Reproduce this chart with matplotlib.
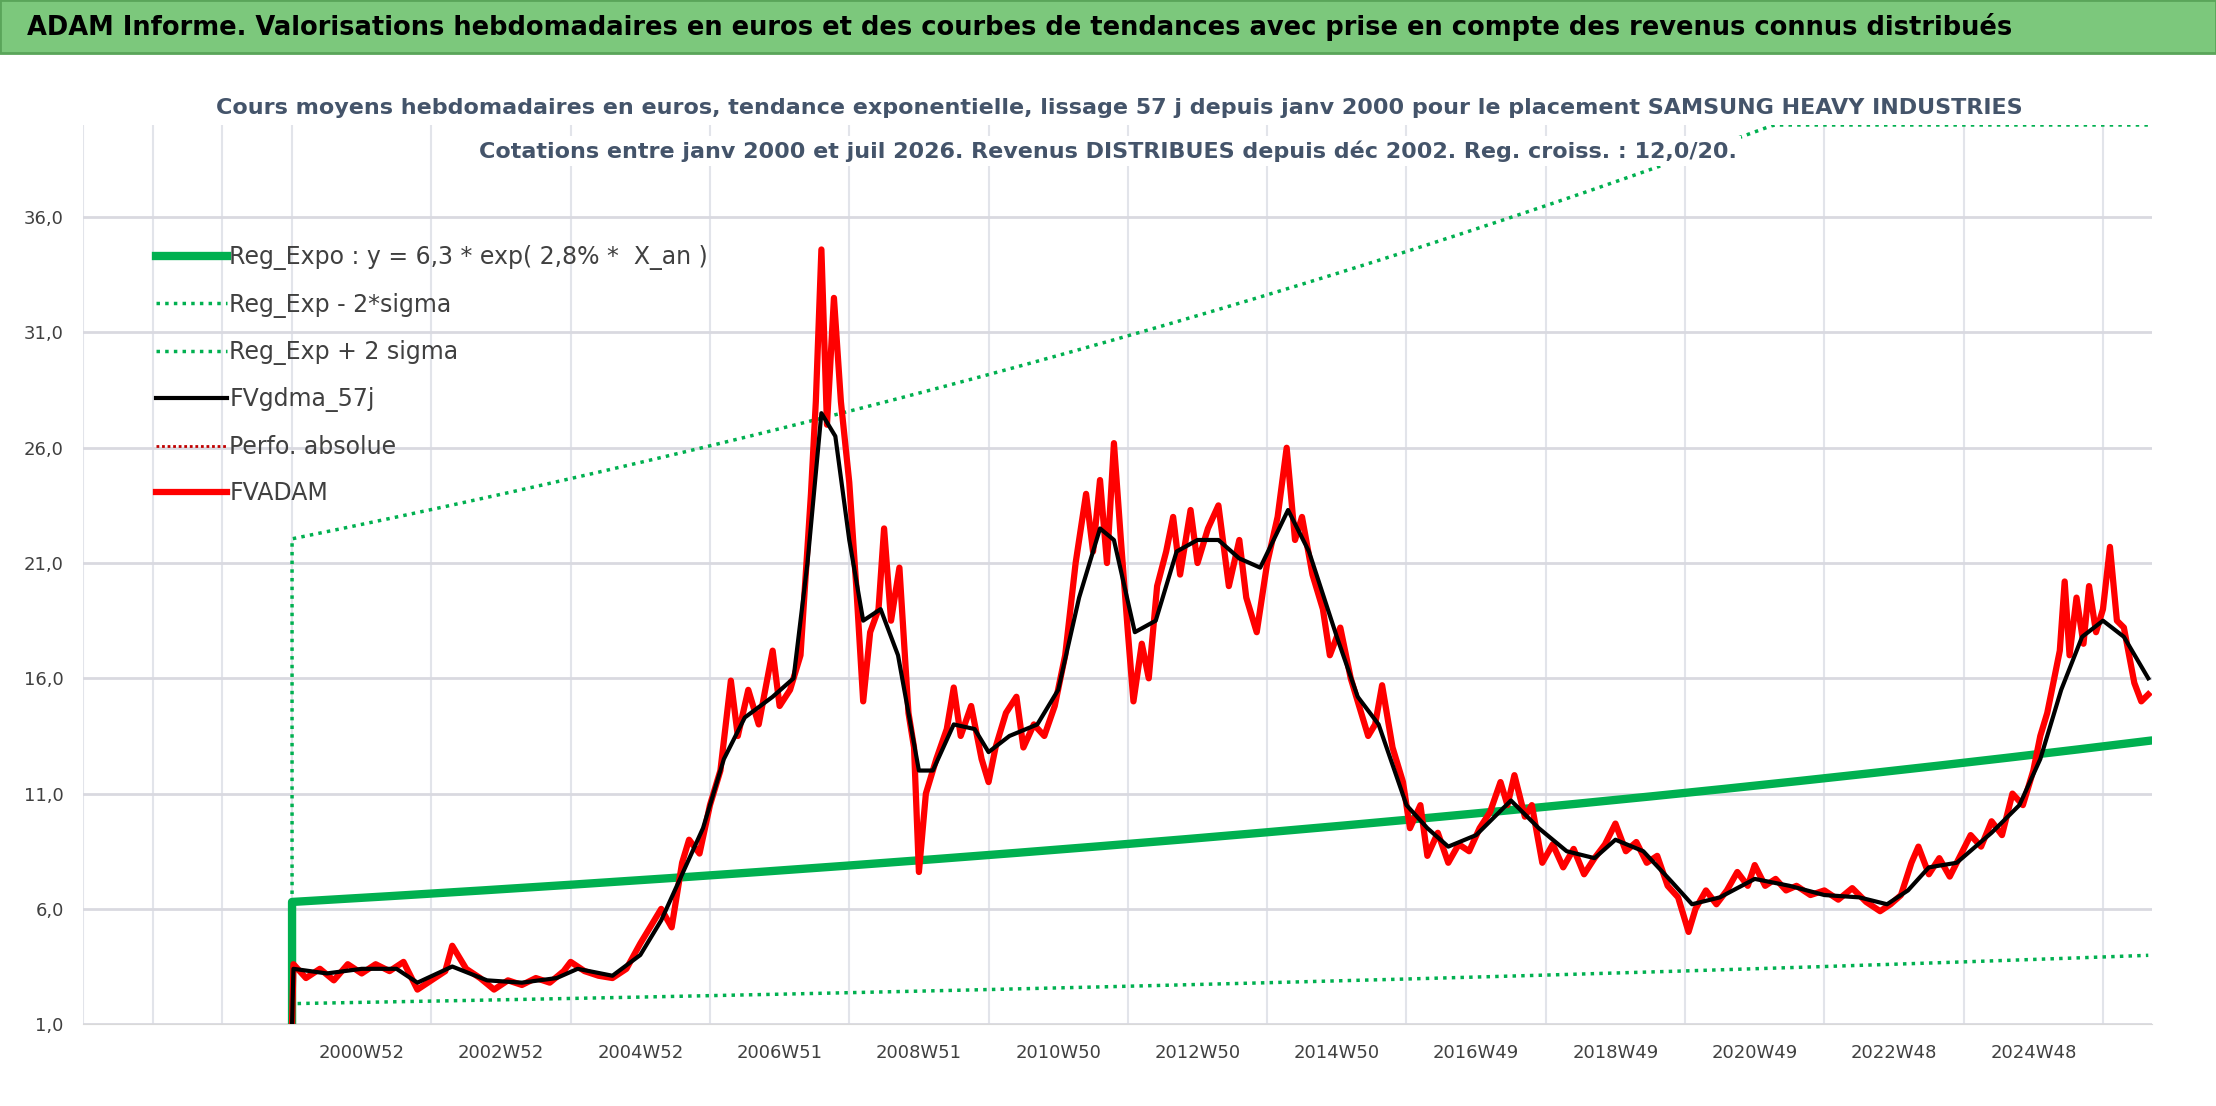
import matplotlib.pyplot as plt
import numpy as np

plt.rcParams['font.family'] = ['Liberation Sans Narrow', 'DejaVu Sans']

# cours hebdo (annee decimale, valeur en euros)
fvadam = [
    (2000.0, 1.0), (2000.02, 3.6), (2000.2, 3.0), (2000.4, 3.4), (2000.6, 2.9), (2000.8, 3.6),
    (2001.0, 3.2), (2001.2, 3.6), (2001.4, 3.3), (2001.6, 3.7), (2001.8, 2.5), (2002.0, 2.9),
    (2002.2, 3.3), (2002.3, 4.4), (2002.5, 3.4), (2002.7, 3.0), (2002.9, 2.5), (2003.1, 2.9),
    (2003.3, 2.7), (2003.5, 3.0), (2003.7, 2.8), (2003.9, 3.3), (2004.0, 3.7), (2004.2, 3.3),
    (2004.4, 3.1), (2004.6, 3.0), (2004.8, 3.4), (2005.0, 4.5), (2005.2, 5.5), (2005.3, 6.0),
    (2005.45, 5.2), (2005.6, 8.0), (2005.7, 9.0), (2005.85, 8.4), (2006.0, 10.5), (2006.15, 12.0),
    (2006.3, 15.9), (2006.4, 13.5), (2006.55, 15.5), (2006.7, 14.0), (2006.9, 17.2), (2007.0, 14.8),
    (2007.15, 15.5), (2007.3, 17.0), (2007.45, 24.0), (2007.52, 28.0), (2007.6, 34.6), (2007.68, 27.0),
    (2007.78, 32.5), (2007.88, 28.0), (2008.0, 24.5), (2008.1, 20.0), (2008.2, 15.0), (2008.3, 18.0),
    (2008.42, 19.0), (2008.5, 22.5), (2008.6, 18.5), (2008.72, 20.8), (2008.85, 14.5), (2008.93, 13.0),
    (2009.0, 7.6), (2009.1, 11.0), (2009.25, 12.5), (2009.4, 13.8), (2009.5, 15.6), (2009.6, 13.5),
    (2009.75, 14.8), (2009.9, 12.5), (2010.0, 11.5), (2010.1, 13.0), (2010.25, 14.5), (2010.4, 15.2),
    (2010.5, 13.0), (2010.65, 14.0), (2010.8, 13.5), (2010.95, 14.8), (2011.1, 17.0), (2011.25, 21.0),
    (2011.4, 24.0), (2011.5, 21.5), (2011.6, 24.6), (2011.7, 21.0), (2011.8, 26.2), (2011.9, 22.0),
    (2012.0, 18.0), (2012.08, 15.0), (2012.2, 17.5), (2012.3, 16.0), (2012.42, 20.0), (2012.55, 21.5),
    (2012.65, 23.0), (2012.75, 20.5), (2012.9, 23.3), (2013.0, 21.0), (2013.15, 22.5), (2013.3, 23.5),
    (2013.45, 20.0), (2013.6, 22.0), (2013.7, 19.5), (2013.85, 18.0), (2014.0, 21.0), (2014.15, 23.0),
    (2014.28, 26.0), (2014.4, 22.0), (2014.5, 23.0), (2014.65, 20.5), (2014.8, 19.0), (2014.9, 17.0),
    (2015.05, 18.2), (2015.2, 16.0), (2015.3, 15.0), (2015.45, 13.5), (2015.55, 14.0), (2015.65, 15.7),
    (2015.8, 13.0), (2015.95, 11.5), (2016.05, 9.5), (2016.2, 10.5), (2016.3, 8.3), (2016.45, 9.3),
    (2016.6, 8.0), (2016.75, 8.8), (2016.9, 8.5), (2017.05, 9.5), (2017.2, 10.2), (2017.35, 11.5),
    (2017.45, 10.5), (2017.55, 11.8), (2017.7, 10.0), (2017.8, 10.5), (2017.95, 8.0), (2018.1, 8.8),
    (2018.25, 7.8), (2018.4, 8.6), (2018.55, 7.5), (2018.7, 8.2), (2018.85, 8.8), (2019.0, 9.7),
    (2019.15, 8.5), (2019.3, 8.9), (2019.45, 8.0), (2019.6, 8.3), (2019.75, 7.0), (2019.9, 6.5),
    (2020.05, 5.0), (2020.15, 6.0), (2020.3, 6.8), (2020.45, 6.2), (2020.6, 6.8), (2020.75, 7.6),
    (2020.9, 7.0), (2021.0, 7.9), (2021.15, 7.0), (2021.3, 7.3), (2021.45, 6.8), (2021.6, 7.0),
    (2021.8, 6.6), (2022.0, 6.8), (2022.2, 6.4), (2022.4, 6.9), (2022.6, 6.3), (2022.8, 5.9),
    (2022.95, 6.2), (2023.1, 6.6), (2023.25, 8.0), (2023.35, 8.7), (2023.5, 7.5), (2023.65, 8.2),
    (2023.8, 7.4), (2023.95, 8.3), (2024.1, 9.2), (2024.25, 8.7), (2024.4, 9.8), (2024.55, 9.2),
    (2024.7, 11.0), (2024.85, 10.5), (2025.0, 12.0), (2025.1, 13.5), (2025.2, 14.5), (2025.3, 16.0),
    (2025.38, 17.2), (2025.45, 20.2), (2025.52, 17.0), (2025.62, 19.5), (2025.72, 17.5), (2025.8, 20.0),
    (2025.9, 18.0), (2026.0, 19.0), (2026.1, 21.7), (2026.2, 18.5), (2026.3, 18.2), (2026.45, 15.8),
    (2026.55, 15.0), (2026.65, 15.3),
]
fvgdma = [
    (2000.0, 1.0), (2000.02, 3.4), (2000.5, 3.2), (2001.0, 3.4), (2001.5, 3.4), (2001.8, 2.8),
    (2002.3, 3.5), (2002.8, 2.9), (2003.3, 2.8), (2003.8, 3.0), (2004.1, 3.4), (2004.6, 3.1),
    (2005.0, 4.0), (2005.3, 5.5), (2005.6, 7.5), (2005.9, 9.5), (2006.2, 12.5), (2006.5, 14.3),
    (2006.9, 15.2), (2007.2, 16.0), (2007.4, 21.0), (2007.6, 27.5), (2007.8, 26.5), (2008.0, 22.0),
    (2008.2, 18.5), (2008.45, 19.0), (2008.7, 17.0), (2009.0, 12.0), (2009.2, 12.0), (2009.5, 14.0),
    (2009.8, 13.8), (2010.0, 12.8), (2010.3, 13.5), (2010.7, 14.0), (2011.0, 15.5), (2011.3, 19.5),
    (2011.6, 22.5), (2011.8, 22.0), (2012.1, 18.0), (2012.4, 18.5), (2012.7, 21.5), (2013.0, 22.0),
    (2013.3, 22.0), (2013.6, 21.2), (2013.9, 20.8), (2014.3, 23.3), (2014.6, 21.5), (2015.0, 17.8),
    (2015.3, 15.2), (2015.6, 14.0), (2016.0, 10.5), (2016.3, 9.5), (2016.6, 8.7), (2017.0, 9.2),
    (2017.5, 10.7), (2017.9, 9.5), (2018.3, 8.5), (2018.7, 8.2), (2019.0, 9.0), (2019.4, 8.5),
    (2019.8, 7.2), (2020.1, 6.2), (2020.5, 6.5), (2021.0, 7.3), (2021.5, 7.0), (2022.0, 6.6),
    (2022.5, 6.5), (2022.9, 6.2), (2023.2, 6.8), (2023.5, 7.8), (2023.9, 8.0), (2024.4, 9.3),
    (2024.8, 10.5), (2025.1, 12.5), (2025.4, 15.5), (2025.7, 17.8), (2026.0, 18.5), (2026.3, 17.8),
    (2026.65, 16.0),
]

xr = np.array([p[0] for p in fvadam]); yr = np.array([p[1] for p in fvadam])
xb = np.array([p[0] for p in fvgdma]); yb = np.array([p[1] for p in fvgdma])

# regression exponentielle: y = 6,3 * exp(2,8% * X_an)
t = np.linspace(2000, 2026.65, 400)
reg = 6.3 * np.exp(0.028 * (t - 2000))
reg_lo = 0.3 * reg
reg_hi = np.minimum(3.5 * reg, 40)
tt = np.concatenate([[2000.0], t])

fig = plt.figure(figsize=(22.16, 11.06), dpi=100)
ax = fig.add_axes([0.0375, 0.074, 0.9335, 0.813])

green = '#00b050'
ax.plot(tt, np.concatenate([[1.0], reg]), color=green, lw=6, label='Reg_Expo : y = 6,3 * exp( 2,8% *  X_an )', zorder=3)
ax.plot(tt, np.concatenate([[1.0], reg_lo]), color=green, lw=2.5, ls=(0, (1, 1.5)), label='Reg_Exp - 2*sigma', zorder=3)
ax.plot(tt, np.concatenate([[1.0], reg_hi]), color=green, lw=2.5, ls=(0, (1, 1.5)), label='Reg_Exp + 2 sigma', zorder=3)
ax.plot(xb, yb, color='black', lw=3, label='FVgdma_57j', zorder=5)
ax.plot([], [], color='#c00000', lw=2, ls=(0, (1, 1)), label='Perfo. absolue')
ax.plot(xr, yr, color='#ff0000', lw=4.5, label='FVADAM', zorder=4)

ax.set_xlim(1997, 2026.7)
ax.set_ylim(1, 40)
yt = np.arange(1, 37, 5)
ax.set_yticks(yt)
ax.set_yticklabels([('%.1f' % v).replace('.', ',') for v in yt], fontsize=13, color='#404040')
labs = ['2000W52', '2002W52', '2004W52', '2006W51', '2008W51', '2010W50', '2012W50',
        '2014W50', '2016W49', '2018W49', '2020W49', '2022W48', '2024W48']
ax.set_xticks(np.arange(2001, 2026, 2))
ax.set_xticklabels(labs, fontsize=13, color='#404040')
ax.set_xticks(np.arange(1997, 2027, 1), minor=True)
ax.tick_params(length=0, which='both', pad=14)
ax.grid(True, axis='y', color='#d9d9e0', lw=2)
ax.grid(True, axis='x', which='minor', color='#e2e4ea', lw=1.5)
for s in ['top', 'right', 'left']:
    ax.spines[s].set_visible(False)
ax.spines['bottom'].set_color('#d9d9d9')

ax.legend(loc='upper left', bbox_to_anchor=(0.025, 0.89), frameon=False, fontsize=17,
          handlelength=3.0, handletextpad=0.1, labelspacing=0.95, labelcolor='#404040')

# bandeau vert
fig.patches.append(plt.Rectangle((0, 1 - 53 / 1106), 1, 53 / 1106, transform=fig.transFigure,
                                 facecolor='#7cc87c', edgecolor='#5aa55a', lw=2))
fig.text(0.012, 1 - 27 / 1106, 'ADAM Informe. Valorisations hebdomadaires en euros et des courbes de tendances avec prise en compte des revenus connus distribués',
         fontsize=18.5, fontweight='bold', va='center', ha='left')
fig.text(0.505, 1 - 108 / 1106, 'Cours moyens hebdomadaires en euros, tendance exponentielle, lissage 57 j depuis janv 2000 pour le placement SAMSUNG HEAVY INDUSTRIES',
         fontsize=16, fontweight='bold', color='#44546a', ha='center', va='center',
         bbox=dict(facecolor='white', edgecolor='none', pad=3))
fig.text(0.5, 1 - 151 / 1106, 'Cotations entre janv 2000 et juil 2026. Revenus DISTRIBUES depuis déc 2002. Reg. croiss. : 12,0/20.',
         fontsize=16, fontweight='bold', color='#44546a', ha='center', va='center',
         bbox=dict(facecolor='white', edgecolor='none', pad=3))

fig.savefig('out.png', dpi=100)
